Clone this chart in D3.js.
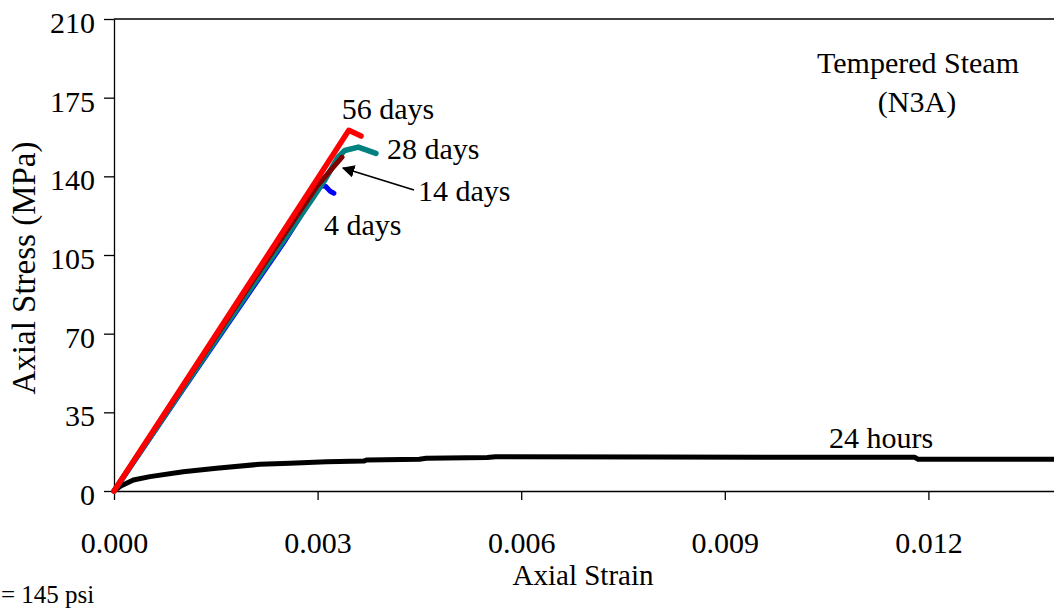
<!DOCTYPE html>
<html>
<head>
<meta charset="utf-8">
<script src="https://cdn.jsdelivr.net/npm/d3@7"></script>
<style>
  body { margin: 0; background: #fff; }
  svg text { font-family: "Liberation Serif", "Times New Roman", serif; fill: #000; }
</style>
</head>
<body>
<svg width="1054" height="608"></svg>
<script>
// strain / stress (MPa)
var strainTicks = [0, 0.003, 0.006, 0.009, 0.012]
var stressTicks = [0, 35, 70, 105, 140, 175, 210]

var hours24 = [[0, 0], [0.0001, 2.2], [0.000285, 4.9], [0.00053, 6.4], [0.00102, 8.6], [0.00151, 10.1],
  [0.00215, 11.9], [0.00259, 12.3], [0.00313, 13.0], [0.00368, 13.3], [0.00372, 13.8], [0.0045, 14.1],
  [0.00460, 14.6], [0.0055, 14.9], [0.00562, 15.25], [0.0080, 15.1], [0.0118, 15.0], [0.01185, 14.1], [0.0145, 14.1]]
var days4 = [[0, 0], [0.0010, 44.5], [0.0020, 88.5], [0.0025, 110.5], [0.0029, 129.5], [0.00304, 136],
  [0.00312, 135.5], [0.00318, 133.5], [0.00324, 132.5]]
var days28 = [[0, 0], [0.0010, 45], [0.0020, 89.5], [0.0029, 129], [0.0031, 138], [0.0033, 148.5],
  [0.0034, 151.5], [0.0036, 153], [0.00386, 150.2]]
var days14 = [[0, 0], [0.0010, 46], [0.0020, 91.5], [0.0030, 136], [0.00336, 148.5]]
var days56 = [[0, 0], [0.0010, 46.3], [0.0020, 92.6], [0.0030, 139], [0.00346, 160.5], [0.00364, 157.9]]

var series = [
  { name: '24 hours', values: hours24, color: '#000000', width: 5 },
  { name: '4 days', values: days4, color: '#0000ff', width: 5 },
  { name: '28 days', values: days28, color: '#008080', width: 5.5 },
  { name: '14 days', values: days14, color: '#800000', width: 5 },
  { name: '56 days', values: days56, color: '#ff0000', width: 5.5 }
]

var svg = d3.select('svg')
var x = d3.scaleLinear().domain([0, 0.015]).range([114, 1132])
var y = d3.scaleLinear().domain([0, 210]).range([491, 19])

// plot frame top
svg.append('line')
  .attr('x1', x(0)).attr('x2', x(0.015))
  .attr('y1', y(210)).attr('y2', y(210))
  .attr('stroke', '#000').attr('stroke-width', 1.3)

var yAxis = svg.append('g')
  .attr('transform', 'translate(' + x(0) + ',0)')
  .call(d3.axisLeft(y).tickValues(stressTicks).tickFormat(d3.format('d')).tickSize(10).tickSizeOuter(0).tickPadding(9))
yAxis.selectAll('text').attr('y', 4).style('font-size', '30px')

var xAxis = svg.append('g')
  .attr('transform', 'translate(0,' + y(0) + ')')
  .call(d3.axisBottom(x).tickValues(strainTicks).tickFormat(d3.format('.3f')).tickSize(9).tickSizeOuter(0).tickPadding(32))
xAxis.selectAll('text').style('font-size', '30px')

svg.selectAll('.domain, .tick line').attr('stroke', '#000').attr('stroke-width', 1.3)

var line = d3.line()
  .x(function (d) { return x(d[0]) })
  .y(function (d) { return y(d[1]) })

svg.selectAll('path.curve')
  .data(series)
  .enter()
  .append('path')
  .attr('class', 'curve')
  .attr('d', function (d) { return line(d.values) })
  .attr('fill', 'none')
  .attr('stroke', function (d) { return d.color })
  .attr('stroke-width', function (d) { return d.width })
  .attr('stroke-linejoin', 'round')
  .attr('stroke-linecap', 'round')

// axis titles
svg.append('text')
  .attr('x', 583).attr('y', 585)
  .attr('text-anchor', 'middle')
  .style('font-size', '29px')
  .text('Axial Strain')

svg.append('text')
  .attr('transform', 'translate(35,268) rotate(-90)')
  .attr('text-anchor', 'middle')
  .style('font-size', '33px')
  .text('Axial Stress (MPa)')

// curve labels
var labels = [
  { text: '56 days', x: 388, y: 119, anchor: 'middle' },
  { text: '28 days', x: 387, y: 159, anchor: 'start' },
  { text: '14 days', x: 418, y: 201, anchor: 'start' },
  { text: '4 days', x: 324, y: 235, anchor: 'start' },
  { text: '24 hours', x: 881, y: 448, anchor: 'middle' },
  { text: 'Tempered Steam', x: 918, y: 73, anchor: 'middle' },
  { text: '(N3A)', x: 917, y: 112, anchor: 'middle' }
]
svg.selectAll('text.label')
  .data(labels)
  .enter()
  .append('text')
  .attr('class', 'label')
  .attr('x', function (d) { return d.x })
  .attr('y', function (d) { return d.y })
  .attr('text-anchor', function (d) { return d.anchor })
  .style('font-size', '30px')
  .text(function (d) { return d.text })

// arrow from "14 days" to its curve
svg.append('defs').append('marker')
  .attr('id', 'arrow')
  .attr('viewBox', '0 0 10 10')
  .attr('refX', 9).attr('refY', 5)
  .attr('markerWidth', 7).attr('markerHeight', 7)
  .attr('orient', 'auto')
  .append('path').attr('d', 'M0,0 L10,5 L0,10 z').attr('fill', '#000')

svg.append('line')
  .attr('x1', 414).attr('y1', 190)
  .attr('x2', 343).attr('y2', 168)
  .attr('stroke', '#000').attr('stroke-width', 1.8)
  .attr('marker-end', 'url(#arrow)')

svg.append('text')
  .attr('x', 1).attr('y', 603)
  .attr('text-anchor', 'start')
  .style('font-size', '25px')
  .text('= 145 psi')
</script>
</body>
</html>
